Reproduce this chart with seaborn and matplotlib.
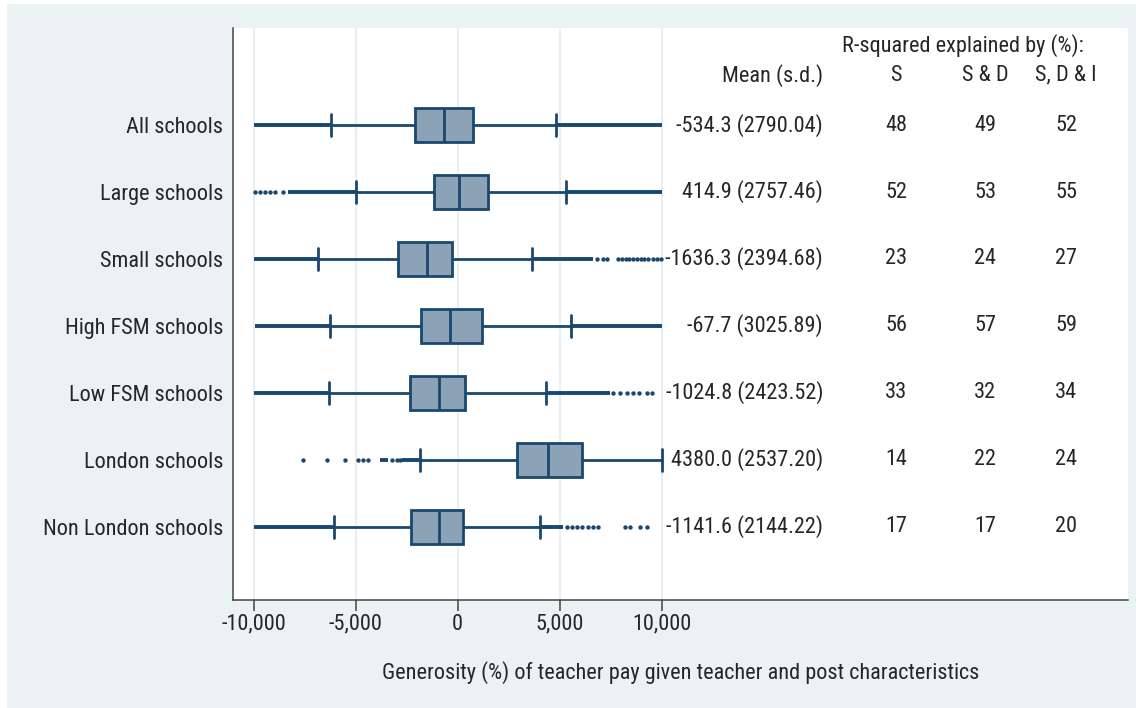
import numpy as np
import pandas as pd
import seaborn as sns
import matplotlib
matplotlib.use("Agg")
import matplotlib.pyplot as plt
from matplotlib import font_manager
from matplotlib.patches import Rectangle
from matplotlib.ticker import FuncFormatter

# ---- data ----
groups = ["All schools", "Large schools", "Small schools", "High FSM schools",
          "Low FSM schools", "London schools", "Non London schools"]

# five-number summary of each box (whisker ends, quartiles, median)
whisk_lo = [-6225, -4970, -6833, -6260, -6324, -1848, -6064]
q1 = [-2078, -1147, -2912, -1814, -2338, 2892, -2289]
median = [-657, 49, -1520, -377, -917, 4441, -902]
q3 = [750, 1485, -279, 1191, 343, 6078, 245]
whisk_hi = [4819, 5309, 3627, 5569, 4330, 10000, 4034]

# runs of outliers so dense that they read as a solid band (start, end)
dense_runs = [
    [(-10000, -6225), (4819, 10000)],
    [(-8300, -4970), (5309, 10000)],
    [(-10000, -6833), (3627, 6650)],
    [(-9930, -6260), (5569, 10000)],
    [(-10000, -6324), (4330, 7466)],
    [(-3800, -3410), (-2745, -1848)],
    [(-10000, -6064), (4034, 5162)],
]

# single outliers that stand apart
lone_dots = [
    [],
    [-9920, -9700, -9450, -9200, -8950, -8580],
    [6810, 7100, 7300, 7870, 8050, 8250, 8420, 8600, 8800, 8980,
     9150, 9350, 9550, 9750, 9950],
    [],
    [7630, 7950, 8280, 8610, 8900, 9260, 9510],
    [-7569, -6422, -5525, -4870, -4625, -4380, -3235, -2990, -2830],
    [5340, 5590, 5830, 6080, 6400, 6650, 6890, 8200, 8445, 8935, 9260],
]

mean_val = [-534.3, 414.9, -1636.3, -67.7, -1024.8, 4380.0, -1141.6]
sd_val = [2790.04, 2757.46, 2394.68, 3025.89, 2423.52, 2537.20, 2144.22]
r2_s = [48, 52, 23, 56, 33, 14, 17]
r2_sd = [49, 53, 24, 57, 32, 22, 17]
r2_sdi = [52, 55, 27, 59, 34, 24, 20]

xticks = [-10000, -5000, 0, 5000, 10000]

# ---- style ----
navy = "#1a476f"
box_fill = "#8ca3b7"
bg = "#eaf2f3"

sns.set_style("white")
avail = {f.name for f in font_manager.fontManager.ttflist}
fam, fs = "Liberation Sans", 14.3
for cand in ("Liberation Sans Narrow", "Roboto Condensed", "Arial Narrow"):
    if cand in avail:
        fam, fs = cand, 16.0
        break
plt.rcParams["font.family"] = [fam, "DejaVu Sans"]

fig = plt.figure(figsize=(11.36, 7.08), dpi=100, facecolor="white")
fig.patches.append(Rectangle((7 / 1136, 0), 1, 704 / 708, transform=fig.transFigure,
                             facecolor=bg, edgecolor="none", zorder=-10))
ax = fig.add_axes([233 / 1136, 1 - 600 / 708, (1128 - 233) / 1136, (600 - 28) / 708])
ax.set_facecolor("white")

# boxes: each group's five numbers, whiskers reaching min/max
rows = []
for g, a, b, c, d, e in zip(groups, whisk_lo, q1, median, q3, whisk_hi):
    for v in (a, b, c, d, e):
        rows.append({"group": g, "value": v})
df = pd.DataFrame(rows)

sns.boxplot(data=df, x="value", y="group", order=groups, orient="h",
            whis=(0, 100), width=0.52, color=box_fill, saturation=1,
            linecolor=navy, linewidth=2, showfliers=False, capwidths=0.33,
            zorder=3, ax=ax)

for i, runs in enumerate(dense_runs):
    for s, e in runs:
        ax.hlines(i, s, e, color=navy, lw=2.8, zorder=2)

dots = pd.DataFrame([{"pos": i, "value": v} for i, vals in enumerate(lone_dots) for v in vals])
sns.scatterplot(data=dots, x="value", y="pos", color=navy, s=10, linewidth=0,
                zorder=2, ax=ax, legend=False)

# text columns
x_mean, x_s, x_sd, x_sdi = 17907, 21485, 25848, 29819
for i in range(len(groups)):
    ax.text(x_mean, i, f"{mean_val[i]:.1f} ({sd_val[i]:.2f})", ha="right", va="center", fontsize=fs)
    ax.text(x_s, i, str(r2_s[i]), ha="center", va="center", fontsize=fs)
    ax.text(x_sd, i, str(r2_sd[i]), ha="center", va="center", fontsize=fs)
    ax.text(x_sdi, i, str(r2_sdi[i]), ha="center", va="center", fontsize=fs)
ax.text(x_mean, -0.746, "Mean (s.d.)", ha="right", va="center", fontsize=fs)
ax.text(x_s, -0.746, "S", ha="center", va="center", fontsize=fs)
ax.text(x_sd, -0.746, "S & D", ha="center", va="center", fontsize=fs)
ax.text(x_sdi, -0.746, "S, D & I", ha="center", va="center", fontsize=fs)
ax.text(24760, -1.19, "R-squared explained by (%):", ha="center", va="center", fontsize=fs)

# axes
ax.set_xlim(-11010, 32850)
ax.set_ylim(7.09, -1.448)
ax.set_xticks(xticks)
ax.xaxis.set_major_formatter(FuncFormatter(lambda v, p: f"{int(v):,}"))
ax.set_yticks(range(len(groups)))
ax.set_yticklabels(groups)
ax.tick_params(axis="x", direction="out", length=8, width=1.1, color="#444444",
               labelsize=fs, pad=2, bottom=True)
ax.tick_params(axis="y", length=0, labelsize=fs, pad=7)
ax.grid(axis="x", color="#e5ebee", lw=1.2)
ax.grid(axis="y", visible=False)
ax.set_axisbelow(True)
ax.set_xlabel("Generosity (%) of teacher pay given teacher and post characteristics",
              fontsize=fs, labelpad=1)
ax.xaxis.set_label_coords(0.5, 1 - (673 - 28) / 572, transform=ax.transAxes)
ax.xaxis.label.set_va("center")
ax.set_ylabel("")
for sp in ("top", "right"):
    ax.spines[sp].set_visible(False)
for sp in ("left", "bottom"):
    ax.spines[sp].set_color("#444444")
    ax.spines[sp].set_linewidth(1.1)

fig.savefig("out.png", dpi=100, facecolor="white")
